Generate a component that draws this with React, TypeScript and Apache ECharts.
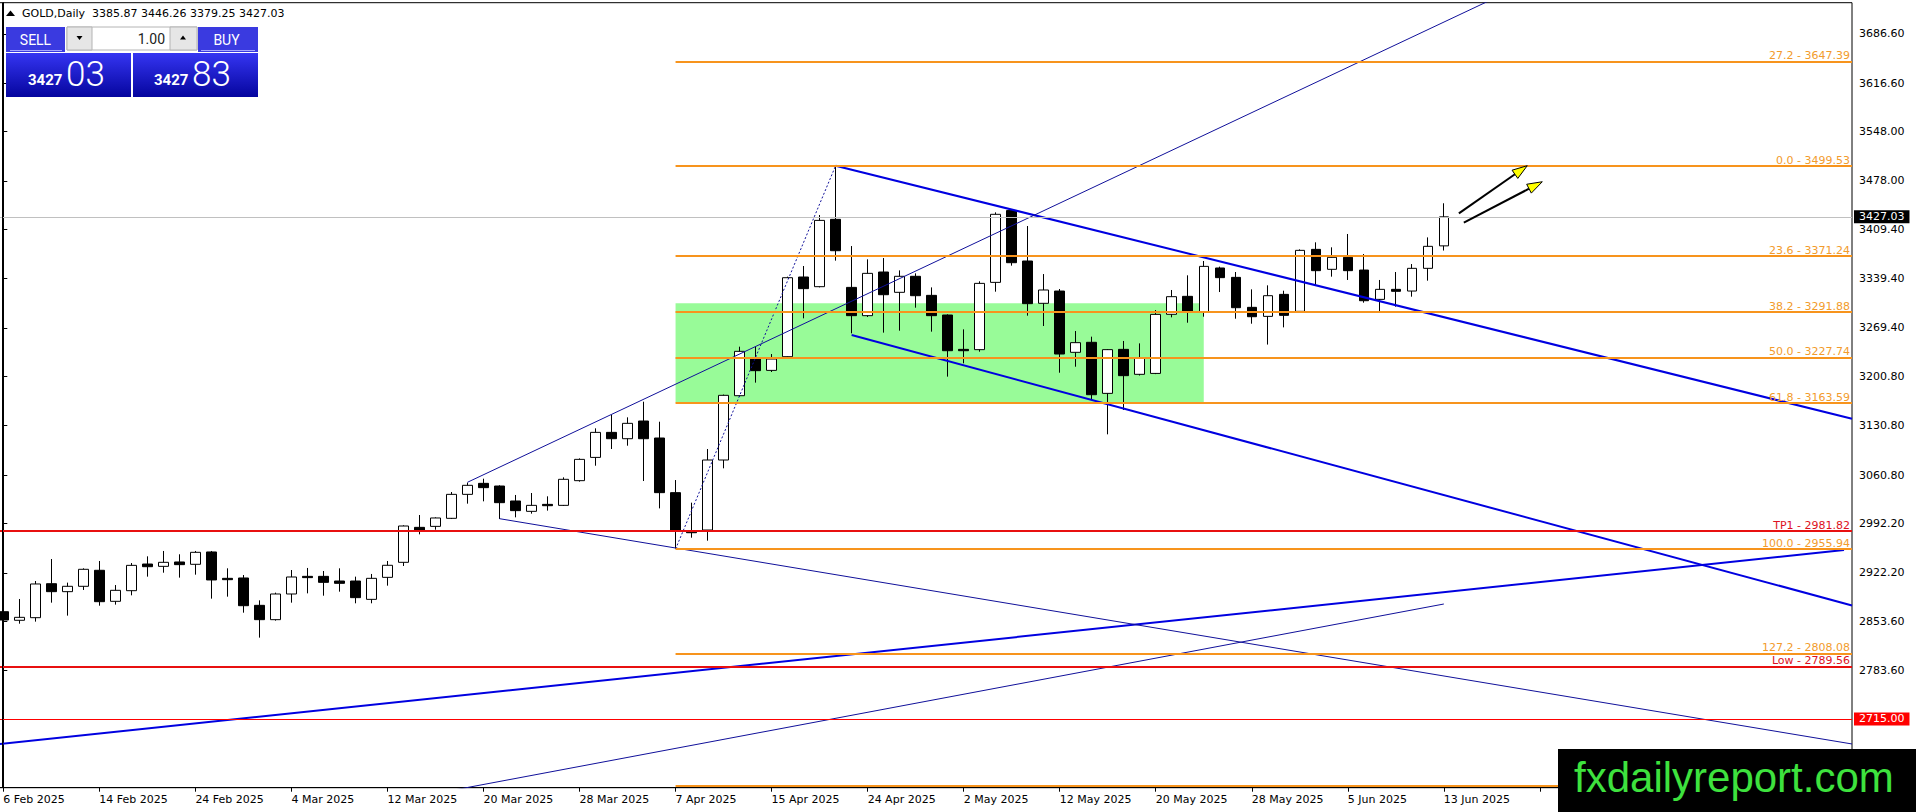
import * as echarts from "echarts";
import { useEffect, useRef } from "react";

// trading days shown on the chart (MT4 daily bars, Good Friday missing)
const dates = [
  "6 Feb 2025", "7 Feb 2025", "10 Feb 2025", "11 Feb 2025", "12 Feb 2025", "13 Feb 2025", "14 Feb 2025",
  "17 Feb 2025", "18 Feb 2025", "19 Feb 2025", "20 Feb 2025", "21 Feb 2025", "24 Feb 2025", "25 Feb 2025",
  "26 Feb 2025", "27 Feb 2025", "28 Feb 2025", "3 Mar 2025", "4 Mar 2025", "5 Mar 2025", "6 Mar 2025",
  "7 Mar 2025", "10 Mar 2025", "11 Mar 2025", "12 Mar 2025", "13 Mar 2025", "14 Mar 2025", "17 Mar 2025",
  "18 Mar 2025", "19 Mar 2025", "20 Mar 2025", "21 Mar 2025", "24 Mar 2025", "25 Mar 2025", "26 Mar 2025",
  "27 Mar 2025", "28 Mar 2025", "31 Mar 2025", "1 Apr 2025", "2 Apr 2025", "3 Apr 2025", "4 Apr 2025",
  "7 Apr 2025", "8 Apr 2025", "9 Apr 2025", "10 Apr 2025", "11 Apr 2025", "14 Apr 2025", "15 Apr 2025",
  "16 Apr 2025", "17 Apr 2025", "21 Apr 2025", "22 Apr 2025", "23 Apr 2025", "24 Apr 2025", "25 Apr 2025",
  "28 Apr 2025", "29 Apr 2025", "30 Apr 2025", "1 May 2025", "2 May 2025", "5 May 2025", "6 May 2025",
  "7 May 2025", "8 May 2025", "9 May 2025", "12 May 2025", "13 May 2025", "14 May 2025", "15 May 2025",
  "16 May 2025", "19 May 2025", "20 May 2025", "21 May 2025", "22 May 2025", "23 May 2025", "26 May 2025",
  "27 May 2025", "28 May 2025", "29 May 2025", "30 May 2025", "2 Jun 2025", "3 Jun 2025", "4 Jun 2025",
  "5 Jun 2025", "6 Jun 2025", "9 Jun 2025", "10 Jun 2025", "11 Jun 2025", "12 Jun 2025", "13 Jun 2025",
];

const opens = [
  2867.1, 2854.9, 2858.6, 2906.8, 2895.5, 2903.1, 2925.8, 2881.8, 2896.9, 2934.7, 2931.4, 2937.6, 2934.3, 2951.8,
  2914.4, 2914.9, 2876.1, 2855.8, 2892.2, 2917.2, 2917.2, 2910.6, 2910.6, 2884.6, 2915.8, 2937.1, 2986.7, 2988.1,
  2999.5, 3033.5, 3049.1, 3045.3, 3024.1, 3009.4, 3019.3, 3017.9, 3052.9, 3085.9, 3121.4, 3112.4, 3137.5, 3113.4,
  3035.9, 2981.5, 2982.9, 3082.2, 3173.4, 3225.4, 3209.3, 3228.7, 3341.7, 3328.0, 3423.5, 3327.0, 3286.9, 3348.8,
  3320.0, 3342.7, 3315.7, 3287.8, 3239.1, 3238.7, 3334.1, 3435.9, 3364.4, 3304.4, 3321.8, 3234.9, 3249.1, 3176.7,
  3239.1, 3203.7, 3205.0, 3288.8, 3314.3, 3292.5, 3354.5, 3341.2, 3298.7, 3285.9, 3317.1, 3293.0, 3380.9, 3352.6,
  3369.6, 3351.6, 3310.0, 3324.2, 3321.8, 3354.0, 3385.87,
];
const highs = [
  2871.8, 2885.1, 2910.6, 2941.8, 2908.3, 2928.6, 2939.0, 2904.9, 2936.1, 2945.6, 2953.2, 2948.5, 2953.2, 2953.2,
  2928.6, 2919.1, 2883.2, 2894.1, 2926.2, 2929.1, 2924.8, 2928.6, 2916.8, 2920.6, 2939.0, 2989.6, 3004.2, 3000.9,
  3036.8, 3050.1, 3055.7, 3046.3, 3032.6, 3035.4, 3030.7, 3057.6, 3084.5, 3127.1, 3146.0, 3142.7, 3164.9, 3136.5,
  3053.8, 3021.7, 3097.8, 3175.0, 3242.9, 3242.9, 3232.5, 3342.2, 3357.3, 3429.6, 3499.53, 3385.6, 3366.8, 3368.6,
  3351.1, 3346.9, 3327.0, 3288.8, 3267.5, 3335.6, 3433.4, 3437.5, 3414.0, 3345.9, 3324.7, 3265.1, 3257.1, 3239.5,
  3251.0, 3247.6, 3294.9, 3323.3, 3344.1, 3364.4, 3356.4, 3348.8, 3324.2, 3329.9, 3322.3, 3380.9, 3390.9, 3383.8,
  3402.7, 3374.3, 3337.5, 3348.8, 3360.1, 3397.9, 3446.26,
];
const lows = [
  2831.7, 2850.1, 2853.0, 2879.9, 2861.5, 2897.9, 2875.6, 2877.1, 2890.3, 2916.8, 2922.4, 2915.4, 2919.6, 2885.6,
  2888.4, 2865.7, 2830.3, 2854.4, 2879.9, 2893.1, 2889.8, 2895.5, 2879.0, 2879.0, 2904.0, 2931.9, 2976.8, 2983.4,
  2998.5, 3020.3, 3023.6, 2998.5, 3000.9, 3006.1, 3010.4, 3017.0, 3051.5, 3074.1, 3097.8, 3102.5, 3052.4, 3013.6,
  2955.94, 2972.0, 2967.8, 3070.4, 3172.0, 3191.9, 3207.0, 3228.0, 3283.1, 3327.0, 3364.9, 3261.8, 3285.0, 3262.8,
  3265.6, 3298.2, 3264.2, 3200.4, 3219.3, 3235.8, 3320.9, 3357.8, 3286.9, 3272.2, 3206.0, 3214.5, 3167.3, 3118.6,
  3153.1, 3202.0, 3204.0, 3284.5, 3276.9, 3285.4, 3320.4, 3282.6, 3275.5, 3245.9, 3270.3, 3292.0, 3330.4, 3342.2,
  3337.5, 3305.3, 3292.5, 3299.6, 3313.8, 3336.5, 3379.25,
];
const closes = [
  2855.3, 2859.1, 2906.4, 2895.5, 2903.1, 2927.2, 2881.3, 2897.4, 2932.8, 2930.9, 2937.1, 2933.8, 2951.3, 2912.1,
  2912.5, 2875.6, 2855.8, 2892.2, 2916.3, 2915.4, 2908.7, 2907.3, 2887.0, 2914.4, 2932.9, 2988.6, 2982.9, 3000.0,
  3033.5, 3046.3, 3043.0, 3021.7, 3010.4, 3017.9, 3017.4, 3054.8, 3083.1, 3121.4, 3112.4, 3134.2, 3112.4, 3035.9,
  2982.9, 2979.1, 3082.2, 3173.9, 3236.3, 3208.9, 3225.4, 3340.7, 3325.2, 3422.0, 3379.0, 3286.9, 3346.9, 3316.6,
  3342.7, 3315.2, 3286.9, 3237.2, 3237.2, 3332.7, 3430.6, 3362.0, 3303.9, 3323.3, 3232.5, 3248.6, 3174.8, 3238.7,
  3201.8, 3226.4, 3288.7, 3313.8, 3292.1, 3356.8, 3340.8, 3298.2, 3285.4, 3315.2, 3287.3, 3379.5, 3350.7, 3369.6,
  3350.7, 3308.1, 3324.2, 3321.4, 3354.0, 3385.2, 3427.03,
];

const emptySlots = 25;
const yTicks = [3686.6, 3616.6, 3548.0, 3478.0, 3409.4, 3339.4, 3269.4, 3200.8, 3130.8, 3060.8, 2992.2, 2922.2, 2853.6, 2783.6];
const yMin = 2617.5;
const yMax = 3730.7;

const fibLevels: [string, number][] = [
  ["27.2", 3647.39], ["0.0", 3499.53], ["23.6", 3371.24], ["38.2", 3291.88], ["50.0", 3227.74],
  ["61.8", 3163.59], ["100.0", 2955.94], ["127.2", 2808.08], ["161.8", 2619.98],
];
const fibStartBar = 42;
const redLevels: [string, number][] = [["TP1", 2981.82], ["Low", 2789.56]];
const stopLevel = 2715.0;
const lastPrice = 3427.03;

// drawn objects as [bar index, price] pairs
const thickLines = [
  [[52, 3499.53], [115.5, 3140.6]],
  [[53, 3259.5], [115.5, 2876.0]],
  [[-0.5, 2678.9], [115, 2954.5]],
];
const thinLines = [
  [[29, 3050.6], [115.5, 3976.0]],
  [[31, 2999.0], [115.5, 2679.5]],
  [[26, 2605.0], [90, 2878.0]],
];
const fibAnchor = [[42, 2955.94], [52, 3499.53]];
const zoneBox = [[42, 3304.5], [75, 3163.59]];
const arrows = [
  [90.94, 3432.0, 95.21, 3499.53],
  [91.25, 3418.7, 96.15, 3476.8],
];

const FONT = "DejaVu Sans";
const ORANGE = "#f7941d";
const RED = "#e81010";

const App = () => {
  const chartRef = useRef<HTMLDivElement>(null);

  useEffect(() => {
    const chart = echarts.init(chartRef.current, null, { renderer: "svg" });
    const nBars = dates.length + emptySlots;
    const xLabels = dates.concat(new Array(emptySlots).fill(""));
    const candles = dates.map((_, i) => [opens[i], closes[i], lows[i], highs[i]]);
    const rightEdge = nBars - 0.5;

    const levelLines: any[] = [];
    fibLevels.forEach(([r, p]) => {
      levelLines.push([
        {
          coord: [fibStartBar, p],
          lineStyle: { color: ORANGE, width: 2, type: "solid" },
          label: {
            // the last level's label sits under the watermark box
            show: p > yMin + 10, position: "insideEndTop", distance: [2, 0], lineHeight: 11,
            formatter: `${r} - ${p.toFixed(2)}`, color: "#f29b2c", fontSize: 11, fontFamily: FONT,
          },
        },
        { coord: [rightEdge, p] },
      ]);
    });
    redLevels.forEach(([name, p]) => {
      levelLines.push([
        {
          coord: [-0.5, p],
          lineStyle: { color: RED, width: 2, type: "solid" },
          label: {
            show: true, position: "insideEndTop", distance: [2, 0], lineHeight: 11,
            formatter: `${name} - ${p.toFixed(2)}`, color: "#dd1122", fontSize: 11, fontFamily: FONT,
          },
        },
        { coord: [rightEdge, p] },
      ]);
    });
    [
      [lastPrice, "#c0c0c0", "#000"],
      [stopLevel, "#ff0000", "#ff0000"],
    ].forEach(([p, lc, bg]) => {
      levelLines.push([
        {
          coord: [-0.5, p],
          lineStyle: { color: lc, width: 1, type: "solid" },
          label: {
            show: true, position: "end", distance: 2,
            formatter: (p as number).toFixed(2), color: "#fff", backgroundColor: bg,
            padding: [1, 5], fontSize: 11, fontFamily: FONT,
          },
        },
        { coord: [rightEdge, p] },
      ]);
    });

    const lineSeries = (pts: number[][], color: string, width: number, type: any, z: number) => ({
      type: "line",
      xAxisIndex: 1,
      yAxisIndex: 0,
      data: pts,
      symbol: "none",
      silent: true,
      z,
      lineStyle: { color, width, type },
    });

    const blueBox = {
      type: "linear", x: 0, y: 0, x2: 0, y2: 1,
      colorStops: [{ offset: 0, color: "#3535f2" }, { offset: 1, color: "#05059e" }],
    };
    const btn = "#3a3ae0";

    const option: any = {
      animation: false,
      backgroundColor: "#fff",
      grid: {
        left: -4.7, right: 64, top: 2.7, bottom: 24.3,
        outerBoundsMode: "none",
        containLabel: false,
        show: true, borderColor: "#000", borderWidth: 1, backgroundColor: "#fff",
      },
      xAxis: [
        {
          type: "category",
          data: xLabels,
          boundaryGap: true,
          axisLine: { show: true, lineStyle: { color: "#000", width: 1 } },
          axisTick: { show: true, alignWithLabel: true, interval: 5, length: 4, lineStyle: { color: "#000" } },
          axisLabel: { interval: 5, align: "left", color: "#000", fontSize: 11, fontFamily: FONT, margin: 6 },
          splitLine: { show: false },
        },
        { type: "value", min: -0.5, max: rightEdge, show: false },
      ],
      yAxis: {
        type: "value",
        position: "right",
        min: yMin,
        max: yMax,
        axisLine: { show: true, lineStyle: { color: "#000", width: 1 } },
        axisTick: { show: true, length: 4, customValues: yTicks, lineStyle: { color: "#000" } },
        axisLabel: {
          customValues: yTicks,
          formatter: (v: number) => v.toFixed(2),
          color: "#000", fontSize: 11, fontFamily: FONT, margin: 7,
        },
        splitLine: { show: false },
      },
      series: [
        {
          type: "line", xAxisIndex: 1, yAxisIndex: 0, data: [], z: 1, silent: true,
          markArea: {
            silent: true,
            itemStyle: { color: "#98fb98", opacity: 1 },
            data: [[{ coord: zoneBox[0] }, { coord: zoneBox[1] }]],
          },
        },
        {
          type: "candlestick",
          xAxisIndex: 0,
          yAxisIndex: 0,
          data: candles,
          barWidth: 10,
          z: 2,
          silent: true,
          itemStyle: { color: "#fff", color0: "#000", borderColor: "#000", borderColor0: "#000", borderWidth: 1 },
        },
        {
          type: "line", xAxisIndex: 1, yAxisIndex: 0, data: [], z: 3, silent: true,
          markLine: { silent: true, symbol: ["none", "none"], data: levelLines },
        },
        ...thickLines.map((l) => lineSeries(l, "#0000e0", 2, "solid", 4)),
        ...thinLines.map((l) => lineSeries(l, "#10109a", 1, "solid", 4)),
        lineSeries(fibAnchor, "#10109a", 1, [2, 2], 4),
        {
          type: "custom",
          xAxisIndex: 1,
          yAxisIndex: 0,
          z: 6,
          silent: true,
          data: arrows,
          renderItem: (_: any, api: any) => {
            const a = api.coord([api.value(0), api.value(1)]);
            const b = api.coord([api.value(2), api.value(3)]);
            const dx = b[0] - a[0];
            const dy = b[1] - a[1];
            const len = Math.hypot(dx, dy);
            const ux = dx / len;
            const uy = dy / len;
            const hl = 15;
            const hw = 5;
            const bx = b[0] - ux * hl;
            const by = b[1] - uy * hl;
            return {
              type: "group",
              children: [
                { type: "line", shape: { x1: a[0], y1: a[1], x2: bx, y2: by }, style: { stroke: "#000", lineWidth: 2 } },
                {
                  type: "polygon",
                  shape: { points: [b, [bx - uy * hw, by + ux * hw], [bx + uy * hw, by - ux * hw]] },
                  style: { fill: "#ffff00", stroke: "#000", lineWidth: 1 },
                },
              ],
            };
          },
        },
      ],
      graphic: [
        { type: "line", z: 100, shape: { x1: 2.5, y1: 2.7, x2: 2.5, y2: 787.7 }, style: { stroke: "#000", lineWidth: 1 } },
        { type: "polygon", z: 100, shape: { points: [[6, 16], [10.5, 10.5], [15, 16]] }, style: { fill: "#000" } },
        {
          type: "text", z: 100,
          style: {
            x: 22, y: 13, text: "GOLD,Daily  3385.87 3446.26 3379.25 3427.03", fill: "#000",
            fontSize: 11, fontFamily: FONT, verticalAlign: "middle", textVerticalAlign: "middle",
          },
        },
        // trade panel
        { type: "rect", z: 100, shape: { x: 6, y: 27, width: 59, height: 25 }, style: { fill: btn } },
        { type: "line", z: 100, shape: { x1: 10, y1: 50.5, x2: 62, y2: 50.5 }, style: { stroke: "#a8a8ff", lineWidth: 1 } },
        {
          type: "text", z: 101,
          style: { x: 35.5, y: 39.5, text: "SELL", fill: "#fff", fontSize: 14, fontFamily: "Roboto", align: "center", textAlign: "center", verticalAlign: "middle", textVerticalAlign: "middle" },
        },
        { type: "rect", z: 100, shape: { x: 67, y: 27, width: 130, height: 23 }, style: { fill: "#fff", stroke: "#b4b4b4" } },
        { type: "rect", z: 100, shape: { x: 67, y: 27, width: 25, height: 23 }, style: { fill: "#e6e6e6", stroke: "#b4b4b4" } },
        { type: "rect", z: 100, shape: { x: 170, y: 27, width: 27, height: 23 }, style: { fill: "#e6e6e6", stroke: "#b4b4b4" } },
        { type: "polygon", z: 101, shape: { points: [[76.5, 36], [82.5, 36], [79.5, 40]] }, style: { fill: "#000" } },
        { type: "polygon", z: 101, shape: { points: [[180, 39.5], [186, 39.5], [183, 35.5]] }, style: { fill: "#000" } },
        {
          type: "text", z: 101,
          style: { x: 165, y: 38.5, text: "1.00", fill: "#222", fontSize: 14, fontFamily: "Roboto", align: "right", textAlign: "right", verticalAlign: "middle", textVerticalAlign: "middle" },
        },
        { type: "rect", z: 100, shape: { x: 198, y: 27, width: 60, height: 25 }, style: { fill: btn } },
        { type: "line", z: 100, shape: { x1: 201, y1: 50.5, x2: 255, y2: 50.5 }, style: { stroke: "#a8a8ff", lineWidth: 1 } },
        {
          type: "text", z: 101,
          style: { x: 226.5, y: 39.5, text: "BUY", fill: "#fff", fontSize: 14, fontFamily: "Roboto", align: "center", textAlign: "center", verticalAlign: "middle", textVerticalAlign: "middle" },
        },
        { type: "rect", z: 100, shape: { x: 6, y: 53, width: 125, height: 44 }, style: { fill: blueBox } },
        { type: "rect", z: 100, shape: { x: 133, y: 53, width: 125, height: 44 }, style: { fill: blueBox } },
        {
          type: "text", z: 101,
          style: { x: 28, y: 80, text: "3427", fill: "#fff", fontSize: 15, fontWeight: "bold", fontFamily: "Roboto", verticalAlign: "middle", textVerticalAlign: "middle" },
        },
        {
          type: "text", z: 101,
          style: { x: 66, y: 74, text: "03", fill: "#fff", fontSize: 35, fontWeight: 300, fontFamily: "Roboto", verticalAlign: "middle", textVerticalAlign: "middle" },
        },
        {
          type: "text", z: 101,
          style: { x: 154, y: 80, text: "3427", fill: "#fff", fontSize: 15, fontWeight: "bold", fontFamily: "Roboto", verticalAlign: "middle", textVerticalAlign: "middle" },
        },
        {
          type: "text", z: 101,
          style: { x: 192, y: 74, text: "83", fill: "#fff", fontSize: 35, fontWeight: 300, fontFamily: "Roboto", verticalAlign: "middle", textVerticalAlign: "middle" },
        },
        // watermark
        { type: "rect", z: 100, shape: { x: 1558, y: 749, width: 358, height: 63 }, style: { fill: "#000" } },
        {
          type: "text", z: 101,
          style: { x: 1574, y: 777, text: "fxdailyreport.com", fill: "#3ee23e", fontSize: 42, fontFamily: "Liberation Sans", verticalAlign: "middle", textVerticalAlign: "middle" },
        },
      ],
    };

    chart.setOption(option);
    return () => {
      chart.dispose();
    };
  }, []);

  return (
    <div
      ref={chartRef}
      style={{ position: "fixed", left: 0, top: 0, width: "1916px", height: "812px", background: "#fff" }}
    />
  );
};

export default App;
